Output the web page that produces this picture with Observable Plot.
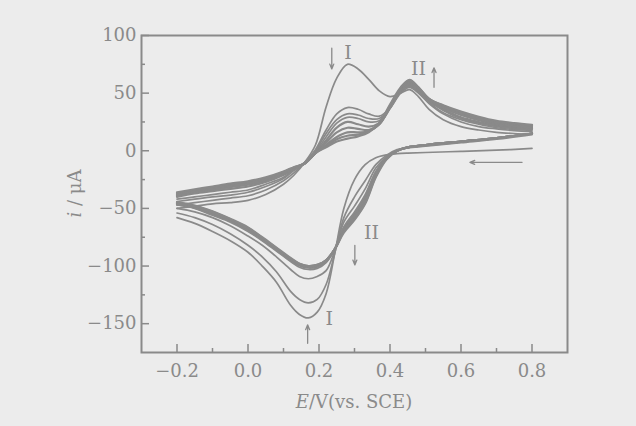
<!DOCTYPE html>
<html>
<head>
<meta charset="utf-8">
<script src="https://cdn.jsdelivr.net/npm/d3@7"></script>
<script src="https://cdn.jsdelivr.net/npm/@observablehq/plot@0.6"></script>
<style>
  html, body { margin: 0; padding: 0; background: #ececec; }
  #chart { width: 636px; height: 426px; }
</style>
</head>
<body>
<div id="chart"></div>
<script>
// Potential grids (V vs SCE)
const anodicE = [-0.2,-0.15,-0.1,-0.05,0,0.05,0.1,0.13,0.16,0.19,0.22,0.25,0.28,0.31,0.34,0.37,0.40,0.43,0.455,0.48,0.51,0.55,0.6,0.65,0.7,0.75,0.8];
const cathodicE = [0.8,0.7,0.6,0.5,0.45,0.42,0.39,0.36,0.33,0.30,0.27,0.245,0.22,0.195,0.17,0.145,0.12,0.08,0.04,0,-0.05,-0.1,-0.15,-0.2];

// Anodic scans (current, µA) per cycle
const c1Anodic = [-50,-48,-46,-45,-43,-38,-29,-21,-10,5,38,63,75,71,62,52,47,50,53,47,36,27,21,18,16,15,14.5];
const c2Anodic = [-47,-45,-43,-41,-39,-34,-26,-19,-10,1,18,32,37.5,36,32,30,37,50,55,50,41,32,25,21,19,17.5,16.5];
const c3Anodic = [-44,-42,-40,-38.5,-36,-31,-24,-17,-10,0,15,27,32,31,28,28,37,51,56,51,42,33,27,23,20,18.5,17.5];
const c4Anodic = [-42,-40,-38,-36,-34,-29,-23,-16,-10,-1,12,24,29,28,25,26,37,52,57,52,43,35,28,24,21,19.5,18.5];
const b1Anodic = [-40,-37,-35,-33,-31,-27,-21,-16,-11,-2,9,20,25,23,21,24,37,52,58,53,43,36,29,25,22,20,19];
const b2Anodic = [-39,-36,-34,-31.5,-29.5,-26,-20,-15,-11,-2,7,16,20,19,18,23,38,53,59,54,44,37,31,26.5,23,21,20];
const b3Anodic = [-38,-35,-33,-30.5,-28.5,-25,-19,-15,-11,-2,5,12,16,16,17,23,38,53,60,54,45,38,32,27.5,24,22,21];
const b4Anodic = [-37,-34.5,-32,-29.5,-27.5,-24,-18.5,-14.5,-11,-2,4,10,13,14,17,24,39,54,61,55,45,39,33,28.5,25,23,22];
const b5Anodic = [-36,-33.5,-31,-28.5,-26.5,-23,-18,-14,-11,-2,3,8,10.5,12.5,16,24,40,55,61.5,55,45,39.5,34,29.5,26,24,22.5];

// Cathodic scans (current, µA) per cycle
const c1Cathodic = [2,0.5,-0.5,-1.5,-2,-2.5,-3.5,-6,-12,-25,-50,-88,-124,-140,-145,-142,-134,-114,-100,-88,-78,-70,-63,-58];
const c2Cathodic = [14,10,7,4,2.5,1,-4,-12,-26,-40,-58,-88,-116,-129,-132,-129,-122,-105,-92,-82,-72,-64,-58,-54];
const c3Cathodic = [15,11,7.5,4.5,3,0.5,-5,-15,-33,-48,-62,-86,-104,-109,-111,-109,-103,-92,-82,-74,-65,-58,-53,-50];
const c4Cathodic = [15,11,8,5,3,0,-6,-18,-38,-53,-66,-85,-97,-102,-103,-101,-96,-87,-78,-70,-62,-56,-50,-47];
const b1Cathodic = [15,11,8,5,3,0,-6,-19,-40,-55,-67,-85,-96,-100.5,-101.5,-99.5,-95,-86,-77,-69,-61,-55,-49.5,-46.5];
const b2Cathodic = [15,11,8,5,3,0,-6.5,-20,-42,-57,-68,-85,-95.5,-100,-101,-99,-94.5,-85.5,-76.5,-68,-60.5,-54,-49,-46];
const b3Cathodic = [15,11,8,5,3,0,-7,-21,-44,-58,-69,-85,-95,-99.5,-100.5,-98.5,-94,-85,-76,-67.5,-60,-53.5,-48.5,-45.5];
const b4Cathodic = [15,11,8,5,3,0,-7,-22,-45,-59,-70,-85,-95,-99,-100,-98,-93.5,-84.5,-75.5,-67,-59.5,-53,-48,-45];
const b5Cathodic = [15,11,8,5,3,0,-7.5,-23,-46,-60,-71,-85,-95,-99,-100,-98,-93,-84,-75,-66.5,-59,-52.5,-47.5,-44.5];

// Tick values
const xMajorTicks = [-0.2,0,0.2,0.4,0.6,0.8];
const xMinorTicks = [-0.1,0.1,0.3,0.5,0.7];
const yMajorTicks = [-150,-100,-50,0,50,100];
const yMinorTicks = [-125,-75,-25,25,75];

// Annotations
const labelText = ["I","II","II","I"];
const labelE = [0.282,0.48,0.348,0.229];
const labelI = [85,71,-71,-146];
const arrowE1 = [0.236,0.524,0.301,0.168,0.772];
const arrowI1 = [89,55,-82,-167,-10];
const arrowE2 = [0.236,0.524,0.301,0.168,0.625];
const arrowI2 = [71,72,-99,-151,-10];

// Build tables
const bandCycles = [
  ["b1", b1Cathodic, b1Anodic], ["b2", b2Cathodic, b2Anodic], ["b3", b3Cathodic, b3Anodic],
  ["b4", b4Cathodic, b4Anodic], ["b5", b5Cathodic, b5Anodic]
];
const earlyCycles = [
  ["c4", c4Cathodic, c4Anodic], ["c3", c3Cathodic, c3Anodic],
  ["c2", c2Cathodic, c2Anodic], ["c1", c1Cathodic, c1Anodic]
];
function toRows(list) {
  const rows = [];
  for (const [name, cat, ano] of list) {
    cat.forEach((v, k) => rows.push({key: name + "-c", E: cathodicE[k], i: v}));
    ano.forEach((v, k) => rows.push({key: name + "-a", E: anodicE[k], i: v}));
  }
  return rows;
}
const bandRows = toRows(bandCycles);
const earlyRows = toRows(earlyCycles);
const labels = labelText.map((t, k) => ({t, E: labelE[k], i: labelI[k]}));
const arrows = arrowE1.map((e, k) => ({x1: e, y1: arrowI1[k], x2: arrowE2[k], y2: arrowI2[k]}));

const ink = "#8a8a8a";
const W = 636, H = 426, mL = 141, mR = 69, mT = 35, mB = 74;
const innerW = W - mL - mR, innerH = H - mT - mB;
const minus = s => s.replace("-", "\u2212");

const plot = Plot.plot({
  width: W, height: H,
  marginLeft: mL, marginRight: mR, marginTop: mT, marginBottom: mB,
  style: {background: "#ececec", fontFamily: "DejaVu Serif", fontSize: "18px", color: ink},
  x: {domain: [-0.3, 0.9]},
  y: {domain: [-175, 100]},
  marks: [
    Plot.axisX(xMajorTicks, {tickSize: 0, tickPadding: 12, tickFormat: d => minus(d3.format(".1f")(d)), label: null}),
    Plot.axisY(yMajorTicks, {tickSize: 0, tickPadding: 5, tickFormat: d => minus(String(d)), label: null}),
    Plot.tickX(xMajorTicks, {stroke: ink, strokeWidth: 1.5, insetTop: innerH - 8}),
    Plot.tickX(xMinorTicks, {stroke: ink, strokeWidth: 1.5, insetTop: innerH - 4}),
    Plot.tickY(yMajorTicks, {stroke: ink, strokeWidth: 1.5, insetRight: innerW - 8}),
    Plot.tickY(yMinorTicks, {stroke: ink, strokeWidth: 1.5, insetRight: innerW - 4}),
    Plot.line(bandRows, {x: "E", y: "i", z: "key", stroke: ink, strokeWidth: 2.2, curve: "catmull-rom"}),
    Plot.line(earlyRows, {x: "E", y: "i", z: "key", stroke: ink, strokeWidth: 1.7, curve: "catmull-rom"}),
    Plot.arrow(arrows, {x1: "x1", y1: "y1", x2: "x2", y2: "y2", stroke: ink, strokeWidth: 1.3, headLength: 6, headAngle: 45}),
    Plot.text(labels, {x: "E", y: "i", text: "t", fill: ink, fontSize: 19, fontFamily: "DejaVu Serif"}),
    Plot.frame({stroke: ink, strokeWidth: 2})
  ]
});

const svg = d3.select(plot);
const xt = svg.append("text")
  .attr("x", mL + innerW / 2).attr("y", H - 18)
  .attr("text-anchor", "middle").attr("fill", ink)
  .attr("font-family", "DejaVu Serif").attr("font-size", 18);
xt.append("tspan").attr("font-style", "italic").text("E");
xt.append("tspan").text("/V(vs. SCE)");

const yt = svg.append("text")
  .attr("transform", `translate(81,${mT + innerH / 2}) rotate(-90)`)
  .attr("text-anchor", "middle").attr("fill", ink)
  .attr("font-family", "DejaVu Serif").attr("font-size", 18);
yt.append("tspan").attr("font-style", "italic").text("i");
yt.append("tspan").text(" / \u03bcA");

document.getElementById("chart").appendChild(plot);
</script>
</body>
</html>
